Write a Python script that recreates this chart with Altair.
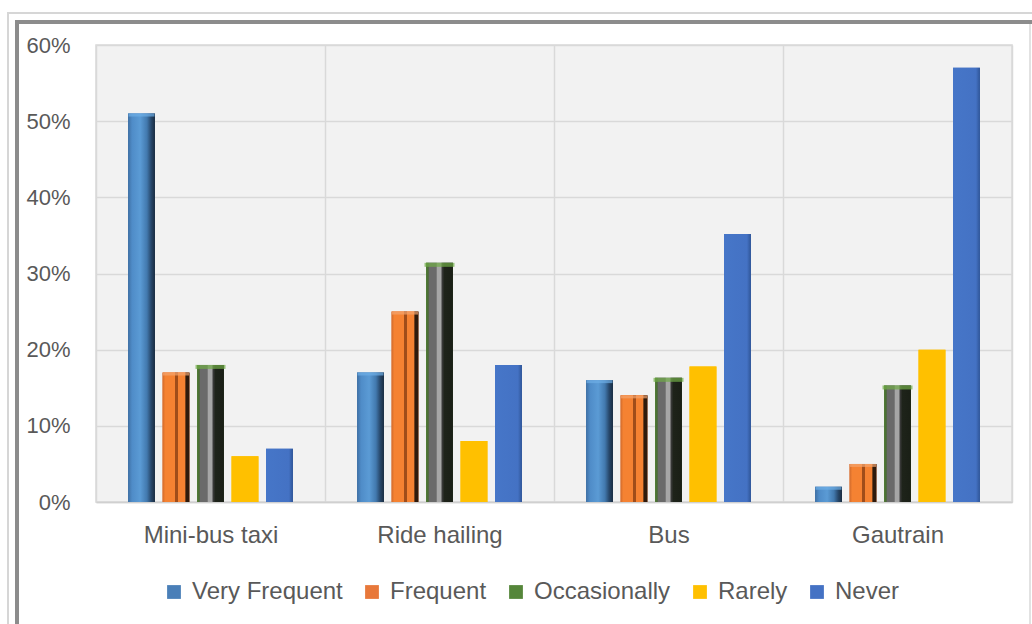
import altair as alt
import pandas as pd

categories = ["Mini-bus taxi", "Ride hailing", "Bus", "Gautrain"]
series = ["Very Frequent", "Frequent", "Occasionally", "Rarely", "Never"]
very_frequent = [51, 17, 16, 2]
frequent = [17, 25, 14, 5]
occasionally = [18, 31.4, 16.3, 15.3]
rarely = [6, 8, 17.8, 20]
never = [7, 18, 35.2, 57]

values_by_series = [very_frequent, frequent, occasionally, rarely, never]
rows = []
for s, vals in zip(series, values_by_series):
    for c, v in zip(categories, vals):
        rows.append({"category": c, "series": s, "value": v / 100.0})
df = pd.DataFrame(rows)

FONT = "Liberation Sans"
TXT = "#595959"

flat_colors = ["#4a7fb8", "#e8783a", "#55863a", "#ffc000", "#4472c4"]

def grad(stops):
    return alt.LinearGradient(
        gradient="linear",
        stops=[alt.GradientStop(offset=o, color=c) for o, c in stops],
        x1=0, x2=1, y1=0, y2=0,
    )

gradients = {
    "Very Frequent": grad([(0, "#3f70a4"), (0.15, "#4f8cc8"), (0.45, "#5b9bd5"),
                           (0.7, "#4279ae"), (0.86, "#27476a"), (1, "#1a2c40")]),
    "Frequent": grad([(0, "#d06a2c"), (0.1, "#f58232"), (0.45, "#f58232"), (0.46, "#a04d1a"),
                      (0.56, "#a04d1a"), (0.57, "#f58232"), (0.84, "#f58232"),
                      (0.86, "#2e1a0c"), (1, "#2e1a0c")]),
    "Occasionally": grad([(0, "#507d35"), (0.08, "#4a6b35"), (0.12, "#6a6a6a"), (0.38, "#6a6a6a"),
                          (0.41, "#a6a6a6"), (0.55, "#a6a6a6"), (0.6, "#3a3a3a"),
                          (0.68, "#1e231a"), (1, "#1a1f16")]),
    "Rarely": grad([(0, "#ffc000"), (1, "#ffc000")]),
    "Never": grad([(0, "#4676c8"), (0.85, "#4472c4"), (1, "#2f5597")]),
}

x_enc = alt.X("category:N", sort=categories, title=None,
              scale=alt.Scale(paddingInner=0, paddingOuter=0))
xo_enc = alt.XOffset("series:N", sort=series,
                     scale=alt.Scale(domain=series, paddingInner=0.22, paddingOuter=0.93))
y_enc = alt.Y("value:Q", title=None,
              scale=alt.Scale(domain=[0, 0.6], nice=False),
              axis=alt.Axis(values=[0, 0.1, 0.2, 0.3, 0.4, 0.5, 0.6], format=".0%"))

base = alt.Chart(df).mark_bar().encode(
    x=x_enc, xOffset=xo_enc, y=y_enc,
    color=alt.Color("series:N", sort=series, title=None,
                    scale=alt.Scale(domain=series, range=flat_colors)),
)

layers = [base]
for s in series:
    layers.append(
        alt.Chart(df).transform_filter(alt.datum.series == s)
        .mark_bar(fill=gradients[s], strokeWidth=0)
        .encode(x=x_enc, xOffset=xo_enc, y=y_enc)
    )

# top caps on the bevelled bars
cap_occ = (alt.Chart(df).transform_filter(alt.datum.series == "Occasionally")
           .mark_tick(color="#70ad47", thickness=4, size=30, yOffset=2)
           .encode(x=x_enc, xOffset=xo_enc, y=y_enc))
cap_freq = (alt.Chart(df).transform_filter(alt.datum.series == "Frequent")
            .mark_tick(color="#f4a46e", thickness=3, size=26, yOffset=1.5)
            .encode(x=x_enc, xOffset=xo_enc, y=y_enc))
cap_vf = (alt.Chart(df).transform_filter(alt.datum.series == "Very Frequent")
          .mark_tick(color="#6eaee6", thickness=3, size=26, yOffset=1.5)
          .encode(x=x_enc, xOffset=xo_enc, y=y_enc))
layers += [cap_occ, cap_freq, cap_vf]

frame_data = alt.Data(values=[{}])
frame_light = alt.Chart(frame_data).mark_rect(fillOpacity=0, stroke="#d6d6d6", strokeWidth=2).encode(
    x=alt.value(8 - 96), x2=alt.value(1060 - 96), y=alt.value(13 - 45), y2=alt.value(700))
frame_dark = alt.Chart(frame_data).mark_rect(fillOpacity=0, stroke="#8c8c8c", strokeWidth=4).encode(
    x=alt.value(17 - 96), x2=alt.value(1060 - 96), y=alt.value(22 - 45), y2=alt.value(700))
frame_right = alt.Chart(frame_data).mark_rule(stroke="#e2e2e2", strokeWidth=2).encode(
    x=alt.value(1030 - 96), y=alt.value(24 - 45), y2=alt.value(700))

chart = alt.layer(frame_light, frame_dark, frame_right, *layers).properties(
    width=916, height=457,
    autosize=alt.AutoSizeParams(type="none"),
    padding={"left": 96, "top": 45, "right": 20, "bottom": 122},
    background="white",
).configure_view(
    fill="#f2f2f2", stroke="#d9d9d9", strokeWidth=1.5,
).configure_axisY(
    labelFont=FONT, labelFontSize=22, labelColor=TXT, ticks=False, domain=False,
    grid=True, gridColor="#d9d9d9", gridWidth=1.5, labelPadding=26,
).configure_axisX(
    labelFont=FONT, labelFontSize=24, labelColor=TXT, ticks=False, domain=True,
    domainColor="#d0d0d0", domainWidth=1.5, grid=True, gridColor="#d9d9d9", gridWidth=1.5,
    tickBand="extent", labelAngle=0, labelPadding=21,
).configure_legend(
    orient="none", legendX=66, legendY=535, direction="horizontal",
    labelFont=FONT, labelFontSize=24, labelColor=TXT, symbolType="square",
    symbolSize=190, symbolStrokeWidth=0, columnPadding=17, labelOffset=6, padding=0,
)

chart.save("out.html", embed_options={"renderer": "svg", "actions": False})
